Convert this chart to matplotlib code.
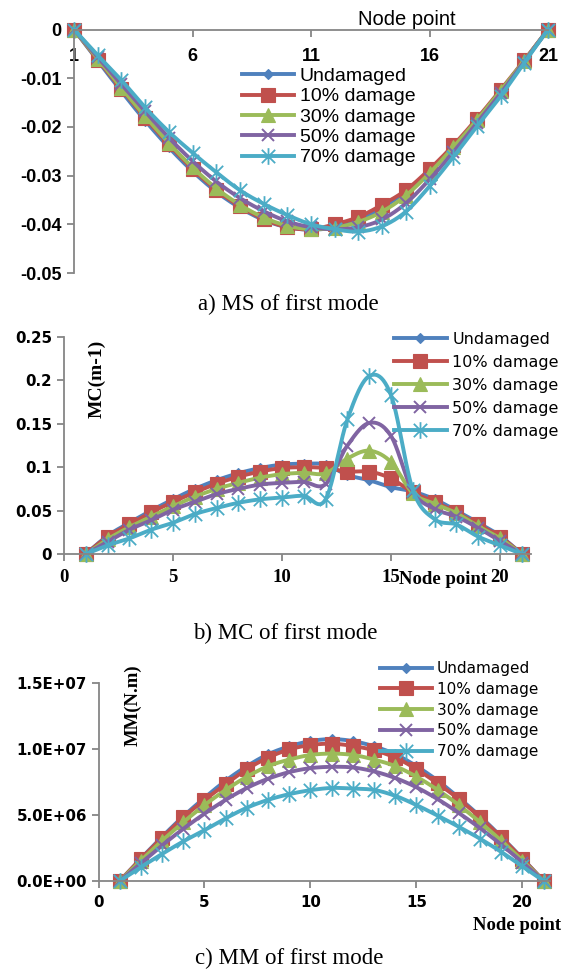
import numpy as np
import matplotlib
matplotlib.use("Agg")
import matplotlib.pyplot as plt
from matplotlib.path import Path
from matplotlib.lines import Line2D
from matplotlib.ticker import FuncFormatter, FixedLocator

plt.rcParams["axes.unicode_minus"] = False

# ---------------- data ----------------
nodes = list(range(1, 22))
series_names = ["Undamaged", "10% damage", "30% damage", "50% damage", "70% damage"]

# a) mode shape
ms_undamaged = [0, -0.0064, -0.0127, -0.0187, -0.0242, -0.0291, -0.0333, -0.0366, -0.0391,
                -0.0406, -0.0411, -0.0406, -0.0391, -0.0366, -0.0333, -0.0291, -0.0242,
                -0.0187, -0.0127, -0.0064, 0]
ms_d10 = [0, -0.0062, -0.0122, -0.0181, -0.0236, -0.0286, -0.0329, -0.0363, -0.0389,
          -0.0406, -0.0410, -0.0400, -0.0385, -0.0360, -0.0330, -0.0287, -0.0238,
          -0.0183, -0.0124, -0.0063, 0]
ms_d30 = [0, -0.0060, -0.0120, -0.0178, -0.0233, -0.0283, -0.0326, -0.0360, -0.0386,
          -0.0403, -0.0410, -0.0407, -0.0395, -0.0374, -0.0341, -0.0295, -0.0242,
          -0.0186, -0.0126, -0.0064, 0]
ms_d50 = [0, -0.0057, -0.0112, -0.0168, -0.0222, -0.0270, -0.0312, -0.0346, -0.0373,
          -0.0394, -0.0406, -0.0410, -0.0406, -0.0390, -0.0357, -0.0308, -0.0252,
          -0.0192, -0.0131, -0.0066, 0]
ms_d70 = [0, -0.0053, -0.0104, -0.0160, -0.0210, -0.0253, -0.0293, -0.0330, -0.0358,
          -0.0381, -0.0400, -0.0410, -0.0415, -0.0404, -0.0374, -0.0322, -0.0262,
          -0.0199, -0.0137, -0.0068, 0]

# b) modal curvature
mc_undamaged = [0, 0.021, 0.036, 0.050, 0.063, 0.075, 0.085, 0.093, 0.099, 0.103, 0.104,
                0.103, 0.091, 0.085, 0.077, 0.072, 0.063, 0.050, 0.036, 0.021, 0]
mc_d10 = [0, 0.020, 0.034, 0.048, 0.060, 0.071, 0.081, 0.089, 0.095, 0.099, 0.100,
          0.099, 0.095, 0.095, 0.087, 0.071, 0.060, 0.048, 0.034, 0.020, 0]
mc_d30 = [0, 0.017, 0.031, 0.043, 0.055, 0.066, 0.075, 0.082, 0.088, 0.092, 0.0935,
          0.093, 0.110, 0.119, 0.106, 0.070, 0.058, 0.047, 0.032, 0.018, 0]
mc_d50 = [0, 0.014, 0.028, 0.039, 0.051, 0.060, 0.069, 0.075, 0.080, 0.082, 0.083,
          0.0805, 0.125, 0.151, 0.136, 0.072, 0.052, 0.043, 0.030, 0.015, 0]
mc_d70 = [0, 0.010, 0.018, 0.028, 0.036, 0.046, 0.053, 0.059, 0.063, 0.065, 0.067,
          0.063, 0.155, 0.205, 0.183, 0.074, 0.040, 0.034, 0.020, 0.010, 0]

# c) modal moment
mm_undamaged = [0, 1.70e6, 3.35e6, 4.90e6, 6.30e6, 7.60e6, 8.70e6, 9.60e6, 1.020e7, 1.060e7,
                1.075e7, 1.060e7, 1.020e7, 9.60e6, 8.70e6, 7.60e6, 6.30e6, 4.90e6, 3.35e6,
                1.70e6, 0]
mm_d10 = [0, 1.68e6, 3.27e6, 4.82e6, 6.13e6, 7.34e6, 8.47e6, 9.35e6, 9.97e6, 1.030e7,
          1.040e7, 1.023e7, 9.90e6, 9.35e6, 8.47e6, 7.39e6, 6.20e6, 4.82e6, 3.30e6,
          1.68e6, 0]
mm_d30 = [0, 1.55e6, 3.05e6, 4.45e6, 5.75e6, 6.90e6, 7.90e6, 8.70e6, 9.20e6, 9.55e6,
          9.65e6, 9.55e6, 9.20e6, 8.70e6, 7.90e6, 6.90e6, 5.75e6, 4.45e6, 3.05e6,
          1.55e6, 0]
mm_d50 = [0, 1.35e6, 2.70e6, 3.95e6, 5.10e6, 6.15e6, 7.05e6, 7.75e6, 8.25e6, 8.55e6,
          8.65e6, 8.60e6, 8.30e6, 7.80e6, 7.10e6, 6.20e6, 5.15e6, 4.00e6, 2.75e6,
          1.40e6, 0]
mm_d70 = [0, 1.05e6, 2.05e6, 3.00e6, 3.85e6, 4.75e6, 5.55e6, 6.15e6, 6.58e6, 6.88e6,
          7.05e6, 7.00e6, 6.90e6, 6.45e6, 5.75e6, 4.95e6, 4.10e6, 3.20e6, 2.20e6,
          1.10e6, 0]

top_xticks = [1, 6, 11, 16, 21]
top_yticks = [0, -0.01, -0.02, -0.03, -0.04, -0.05]
mid_xticks = [0, 5, 10, 15, 20]
mid_yticks = [0, 0.05, 0.1, 0.15, 0.2, 0.25]
bot_xticks = [0, 5, 10, 15, 20]
bot_yticks = [0, 5e6, 1.0e7, 1.5e7]

# ---------------- styling ----------------
colors = ["#4F81BD", "#C0504D", "#9BBB59", "#8064A2", "#4BACC6"]
star = Path([(0, -1), (0, 1), (-0.8, -0.8), (0.8, 0.8), (-0.8, 0.8), (0.8, -0.8)],
            [Path.MOVETO, Path.LINETO] * 3)
marker_styles = [
    dict(marker="D", ms=5.5, mew=0.8),
    dict(marker="s", ms=10.5, mew=0.8),
    dict(marker="^", ms=10.5, mew=0.8),
    dict(marker="x", ms=8, mew=1.4),
    dict(marker=star, ms=12, mew=1.3),
]
LW = 2.8
GRAY = "#868686"
SANS = "Liberation Sans"
SERIF = "Liberation Serif"
W, H = 569, 972


def smooth(x, y, n=24):
    """Bezier smoothing through the points (Catmull-Rom style control points)."""
    p = np.column_stack([x, y]).astype(float)
    ext = np.vstack([p[0], p, p[-1]])
    t = np.linspace(0, 1, n)[:, None]
    out = []
    for i in range(len(p) - 1):
        p0, p1, p2, p3 = ext[i], ext[i + 1], ext[i + 2], ext[i + 3]
        c1 = p1 + (p2 - p0) / 6.0
        c2 = p2 - (p3 - p1) / 6.0
        seg = ((1 - t) ** 3) * p1 + 3 * ((1 - t) ** 2) * t * c1 + 3 * (1 - t) * t ** 2 * c2 + t ** 3 * p2
        out.append(seg if i == 0 else seg[1:])
    out = np.vstack(out)
    return out[:, 0], out[:, 1]


def draw_series(ax, ys):
    for y, c, st in zip(ys, colors, marker_styles):
        sx, sy = smooth(nodes, y)
        ax.plot(sx, sy, color=c, lw=LW, solid_capstyle="round", clip_on=False)
        ax.plot(nodes, y, linestyle="none", color=c, marker=st["marker"], ms=st["ms"],
                mew=st["mew"], mfc=c, mec=c, clip_on=False)


def legend_handles():
    return [Line2D([], [], color=c, lw=LW, marker=st["marker"], ms=st["ms"], mew=st["mew"],
                   mfc=c, mec=c) for c, st in zip(colors, marker_styles)]


def rect(left, right, top, bottom):
    return [left / W, 1 - bottom / H, (right - left) / W, (bottom - top) / H]


def fig_xy(px, py):
    return (px / W, 1 - py / H)


def style_spines(ax, visible):
    for s in ["left", "right", "top", "bottom"]:
        ax.spines[s].set_visible(s in visible)
        ax.spines[s].set_color(GRAY)
        ax.spines[s].set_linewidth(1.3)


fig = plt.figure(figsize=(W / 100, H / 100), dpi=100)
fig.patch.set_facecolor("white")

# ---------------- a) MS ----------------
ax1 = fig.add_axes(rect(74, 548, 29.5, 273))
draw_series(ax1, [ms_undamaged, ms_d10, ms_d30, ms_d50, ms_d70])
ax1.set_xlim(1, 21)
ax1.set_ylim(-0.05, 0)
style_spines(ax1, ["left", "top"])
ax1.xaxis.set_major_locator(FixedLocator(top_xticks))
ax1.yaxis.set_major_locator(FixedLocator(top_yticks))
ax1.yaxis.set_major_formatter(FuncFormatter(lambda v, p: "0" if abs(v) < 1e-12 else f"{v:g}"))
ax1.tick_params(axis="x", top=True, bottom=False, labeltop=True, labelbottom=False,
                direction="in", length=5, width=1.3, color=GRAY, pad=-25.5)
ax1.tick_params(axis="y", direction="out", length=5, width=1.3, color=GRAY, pad=4)
for lab in ax1.get_xticklabels() + ax1.get_yticklabels():
    lab.set_fontfamily(SANS)
    lab.set_fontweight("bold")
    lab.set_fontsize(13)
fig.text(*fig_xy(407, 19.5), "Node point", family=SANS, fontsize=14.5, ha="center", va="center")
ax1.legend(legend_handles(), series_names, loc="upper left",
           bbox_to_anchor=fig_xy(241.6, 67.4), bbox_transform=fig.transFigure,
           frameon=False, borderpad=0, borderaxespad=0, handlelength=2.7,
           handletextpad=0.28, labelspacing=0.14, prop=dict(family=SANS, size=14))
fig.text(*fig_xy(288, 304), "a) MS of first mode", family=SERIF, fontsize=16.5,
         ha="center", va="center")

# ---------------- b) MC ----------------
ax2 = fig.add_axes(rect(64, 64 + 21.4 * 21.8, 337, 554))
draw_series(ax2, [mc_undamaged, mc_d10, mc_d30, mc_d50, mc_d70])
ax2.set_xlim(0, 21.4)
ax2.set_ylim(0, 0.25)
style_spines(ax2, ["left", "bottom"])
ax2.xaxis.set_major_locator(FixedLocator(mid_xticks))
ax2.yaxis.set_major_locator(FixedLocator(mid_yticks))
ax2.yaxis.set_major_formatter(FuncFormatter(lambda v, p: f"{v:g}"))
ax2.tick_params(axis="both", direction="out", length=5, width=1.3, color=GRAY)
ax2.tick_params(axis="x", pad=6)
for lab in ax2.get_xticklabels():
    lab.set_fontfamily(SERIF)
    lab.set_fontweight("bold")
    lab.set_fontsize(13.5)
for lab in ax2.get_yticklabels():
    lab.set_fontfamily("DejaVu Sans")
    lab.set_fontweight("bold")
    lab.set_fontsize(10.8)
fig.text(*fig_xy(443, 579), "Node point", family=SERIF, fontweight="bold", fontsize=13.5,
         ha="center", va="center")
fig.text(*fig_xy(97, 379), "MC(m-1)", family=SERIF, fontweight="bold", fontsize=14,
         ha="center", va="center", rotation=90)
ax2.legend(legend_handles(), series_names, loc="upper left",
           bbox_to_anchor=fig_xy(394, 332), bbox_transform=fig.transFigure,
           frameon=False, borderpad=0, borderaxespad=0, handlelength=3.3,
           handletextpad=0.34, labelspacing=0.5, prop=dict(family="DejaVu Sans", size=11.5))
fig.text(*fig_xy(285, 633), "b) MC of first mode", family=SERIF, fontsize=16.5,
         ha="center", va="center")

# ---------------- c) MM ----------------
ax3 = fig.add_axes(rect(98.5, 98.5 + 21.3 * 21.2, 683, 881))
draw_series(ax3, [mm_undamaged, mm_d10, mm_d30, mm_d50, mm_d70])
ax3.set_xlim(0, 21.3)
ax3.set_ylim(0, 1.5e7)
style_spines(ax3, ["left", "bottom"])
ax3.xaxis.set_major_locator(FixedLocator(bot_xticks))
ax3.yaxis.set_major_locator(FixedLocator(bot_yticks))
ax3.yaxis.set_major_formatter(FuncFormatter(lambda v, p: f"{v:.1E}"))
ax3.tick_params(axis="both", direction="out", length=5, width=1.3, color=GRAY)
ax3.tick_params(axis="x", pad=5)
for lab in ax3.get_xticklabels() + ax3.get_yticklabels():
    lab.set_fontfamily("DejaVu Sans")
    lab.set_fontweight("bold")
    lab.set_fontsize(10.8)
fig.text(*fig_xy(517, 925), "Node point", family=SERIF, fontweight="bold", fontsize=13.5,
         ha="center", va="center")
fig.text(*fig_xy(133, 705), "MM(N.m)", family=SERIF, fontweight="bold", fontsize=13.5,
         ha="center", va="center", rotation=90)
ax3.legend(legend_handles(), series_names, loc="upper left",
           bbox_to_anchor=fig_xy(379.6, 661), bbox_transform=fig.transFigure,
           frameon=False, borderpad=0, borderaxespad=0, handlelength=3.4,
           handletextpad=0.35, labelspacing=0.38, prop=dict(family="DejaVu Sans", size=11))
fig.text(*fig_xy(289, 958), "c) MM of first mode", family=SERIF, fontsize=16.5,
         ha="center", va="center")

fig.savefig("out.png", dpi=100, facecolor="white")
